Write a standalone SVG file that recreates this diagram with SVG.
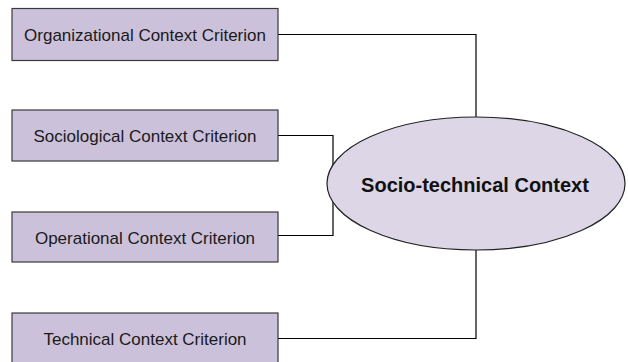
<svg xmlns="http://www.w3.org/2000/svg" width="628" height="362" viewBox="0 0 628 362">
<style>
.box{fill:#CCC1DA;stroke:#3a3a3a;stroke-width:1.2}
.lbl{font-family:"Liberation Sans",Arial,sans-serif;font-size:17px;fill:#1a1a1a;text-anchor:middle}
.conn{fill:none;stroke:#000;stroke-width:1.2}
.ell{fill:#DCD6E6;stroke:#222;stroke-width:1.2}
.big{font-family:"Liberation Sans",Arial,sans-serif;font-size:20px;font-weight:bold;fill:#111;text-anchor:middle}
</style>
<rect width="628" height="362" fill="#fff"/>
<g id="connectors">
<path class="conn" d="M278,34.5 H476 V117"/>
<path class="conn" d="M278,135.5 H333 V235.5 H278"/>
<path class="conn" d="M278,338.5 H476 V250"/>
</g>
<g id="n1">
<rect class="box" x="12" y="8.5" width="266" height="52"/>
<text class="lbl" x="145" y="41">Organizational Context Criterion</text>
</g>
<g id="n2">
<rect class="box" x="12" y="110" width="266" height="51"/>
<text class="lbl" x="145" y="142">Sociological Context Criterion</text>
</g>
<g id="n3">
<rect class="box" x="12" y="212" width="266" height="50"/>
<text class="lbl" x="145" y="243.5">Operational Context Criterion</text>
</g>
<g id="n4">
<rect class="box" x="12" y="313" width="266" height="52"/>
<text class="lbl" x="145" y="344.5">Technical Context Criterion</text>
</g>
<g id="center">
<ellipse class="ell" cx="476" cy="183.5" rx="149" ry="66.5"/>
<text class="big" x="475" y="192">Socio-technical Context</text>
</g>
</svg>
